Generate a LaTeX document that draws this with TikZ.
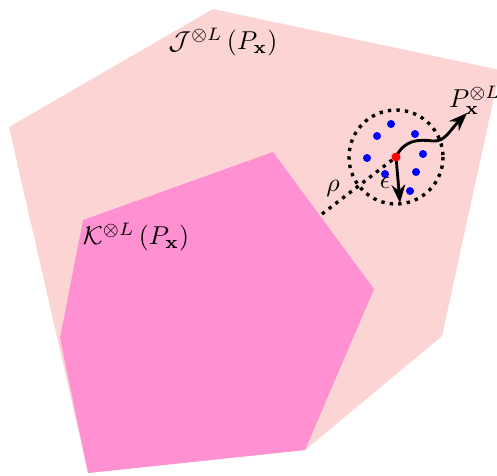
\documentclass[tikz,border=0pt]{standalone}
\usepackage{tikz}
\usepackage{xcolor}
\usetikzlibrary{arrows.meta,calc}
\definecolor{LightPink}{HTML}{FDD4D4}
\definecolor{HotPink}{HTML}{FF90D2}

\begin{document}
\begin{tikzpicture}[x=0.0136cm, y=-0.0136cm]
        \useasboundingbox (0,0) rectangle (497,475);
        % outer and inner sets
        \fill[LightPink] (213,9) -- (500,70) -- (442,336) -- (305,450) -- (88,473) -- (9,127) -- cycle;
        \fill[HotPink] (273,152) -- (374,289) -- (305,450) -- (88,473) -- (60,338) -- (83,220) -- cycle;
        \node (jset) at (223,42) {$\mathcal{J}^{\otimes L}\left(P_{\mathbf{x}}\right)$};
        \node (kset) at (136,237) {$\mathcal{K}^{\otimes L}\left(P_{\mathbf{x}}\right)$};
        % ball around the point
        \coordinate (ctr) at (396,157);
        \draw[line width=1.3pt, dotted] (ctr) circle (47);
        \foreach \x/\y in {391/124,377/136,415/134,367/158,423/154,385/174,416/172,410/191} {
          \fill[blue] (\x,\y) circle (4);
        }
        \coordinate (edge) at (322,214);
        \draw[line width=1.3pt, dotted] (edge) -- (ctr);
        \node (rho) at (333,188) {$\rho$};
        \coordinate (epsend) at (400,203);
        \draw[line width=1.1pt, -{Stealth[length=2.5mm]}] (ctr) -- (epsend);
        \node (eps) at (385,183) {$\epsilon$};
        \coordinate (tip) at (467,113);
        \draw[line width=1.1pt, -{Stealth[length=2.5mm]}] (ctr) .. controls (404,140) and (418,139) .. (433,141) .. controls (445,142) and (450,130) .. (tip);
        \node[anchor=west, inner sep=1pt] (pxl) at (446,100) {$P_{\mathbf{x}}^{\otimes L}$};
        \fill[red] (ctr) circle (4.5);
      \end{tikzpicture}
\end{document}
